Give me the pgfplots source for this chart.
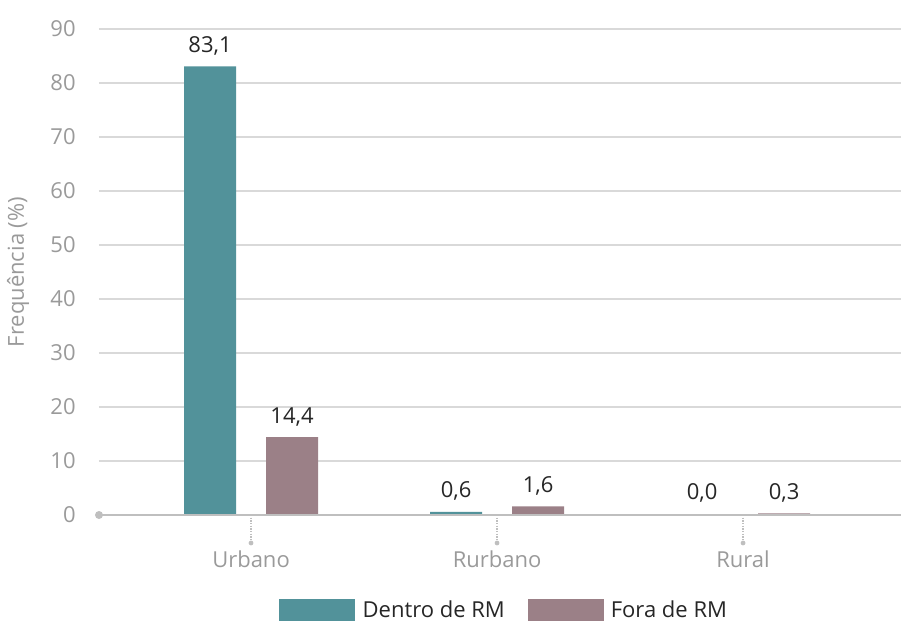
\documentclass[border=0pt]{standalone}
\usepackage{pgfplots}
\pgfplotsset{compat=1.18}
\usepackage{fontspec}
\setmainfont{Open Sans}
\definecolor{tealbar}{HTML}{52929A}
\definecolor{mauvebar}{HTML}{9B8087}
\definecolor{gridc}{HTML}{D9D9D9}
\definecolor{axisc}{HTML}{BFBFBF}
\definecolor{labc}{HTML}{9A9A9A}
\definecolor{txtc}{HTML}{262626}
\begin{document}
\begin{tikzpicture}
\useasboundingbox (0,0) rectangle (676.5pt,465.75pt);
\begin{axis}[
  at={(74.25pt,79.5pt)}, anchor=south west,
  scale only axis, width=601.5pt, height=364.5pt,
  xmin=-0.618, xmax=2.642, ymin=0, ymax=90,
  ybar, bar width=39pt,
  clip=false,
  axis line style={draw=none},
  xtick={0,1,2}, xticklabels={Urbano,Rurbano,Rural},
  ytick={0,10,...,90},
  major tick length=0pt,
  ymajorgrids, grid style={gridc, line width=1.1pt},
  /pgf/number format/assume math mode=true,
  tick label style={font=\fontsize{16.5}{19}\selectfont, text=labc},
  yticklabel style={anchor=east, xshift=-14pt},
  xticklabel style={anchor=center, yshift=-33pt, font=\fontsize{16.5}{19}\selectfont},
  ylabel={Frequência (\%)},
  ylabel style={at={(axis description cs:-0.101,0.5)}, anchor=center, font=\fontsize{16.5}{19}\selectfont, text=labc},
  nodes near coords,
  point meta=explicit,
  nodes near coords style={font=\fontsize{16.5}{19}\selectfont, text=txtc, anchor=south, yshift=5pt,
    /pgf/number format/.cd, use comma, fixed, fixed zerofill, precision=1, assume math mode=true},
  legend style={at={(0.5056,-0.1955)}, anchor=center, draw=none, fill=none, inner sep=0pt,
    legend columns=2, font=\fontsize{16.5}{19}\selectfont, text=txtc,
    /tikz/every odd column/.append style={column sep=3.5pt},
    /tikz/every even column/.append style={column sep=15pt}},
  legend image code/.code={\fill[#1] (0pt,-8.25pt) rectangle (57pt,8.25pt);},
]
\addplot[fill=tealbar, draw=none, bar shift=-30.75pt] coordinates {(0,83.1) [83.1] (1,0.6) [0.6] (2,0.15) [0.0]};
\addlegendentry{Dentro de RM}
\addplot[fill=mauvebar, draw=none, bar shift=30.75pt] coordinates {(0,14.4) [14.4] (1,1.6) [1.6] (2,0.3) [0.3]};
\addlegendentry{Fora de RM}
\draw[axisc, line width=1.1pt] (axis cs:-0.618,0) -- (axis cs:2.642,0);
\fill[axisc] (axis cs:-0.618,0) circle[radius=3pt];
\draw[axisc, densely dotted, line width=1pt] (axis cs:0,0) -- (axis cs:0,-5.185);
\draw[axisc, densely dotted, line width=1pt] (axis cs:1,0) -- (axis cs:1,-5.185);
\draw[axisc, densely dotted, line width=1pt] (axis cs:2,0) -- (axis cs:2,-5.185);
\fill[axisc] (axis cs:0,-5.185) circle[radius=1.8pt];
\fill[axisc] (axis cs:1,-5.185) circle[radius=1.8pt];
\fill[axisc] (axis cs:2,-5.185) circle[radius=1.8pt];
\end{axis}
\end{tikzpicture}
\end{document}
